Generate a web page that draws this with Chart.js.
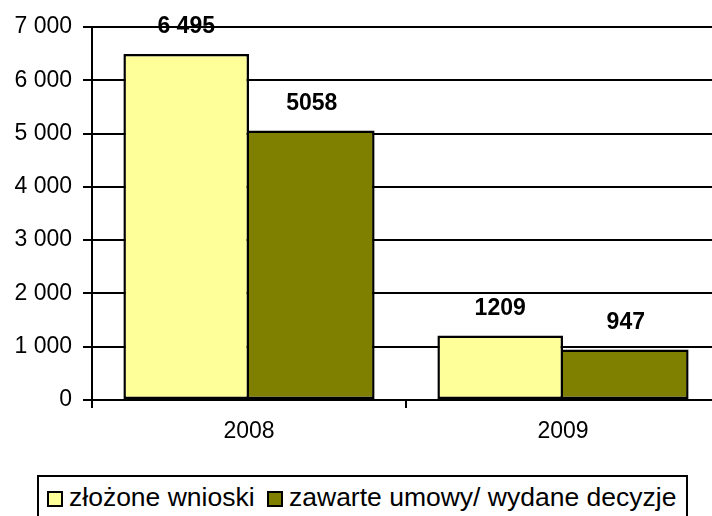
<!DOCTYPE html>
<html>
<head>
<meta charset="utf-8">
<script src="https://cdn.jsdelivr.net/npm/chart.js@4"></script>
<style>
  html, body { margin: 0; padding: 0; background: #fff; }
  #wrap { position: relative; width: 712px; height: 516px; overflow: hidden; }
  #chartBox { position: absolute; left: 0; top: 0; width: 724px; height: 470px; }
  .legend {
    position: absolute; left: 37px; top: 475px; width: 647px; height: 50px;
    border: 2px solid #000; font-family: "Liberation Sans", Arial, sans-serif;
    font-size: 26.5px; line-height: 30px; color: #000; white-space: nowrap;
  }
  .legend span.item { position: absolute; top: 5px; }
  .legend i {
    display: inline-block; width: 12px; height: 12px; border: 2px solid #000;
    vertical-align: -1px; margin-right: 6px;
  }
</style>
</head>
<body>
<div id="wrap">
  <div id="chartBox"><canvas id="myChart" width="724" height="470"></canvas></div>
  <div class="legend" id="legend"></div>
</div>
<script>
"use strict";

// data
const years = ["2008", "2009"];
const seriesNames = ["złożone wnioski", "zawarte umowy/ wydane decyzje"];
const wnioski = [6495, 1209];
const umowy = [5058, 947];
const wnioskiLabels = ["6 495", "1209"];
const umowyLabels = ["5058", "947"];
const yTickLabels = ["0", "1 000", "2 000", "3 000", "4 000", "5 000", "6 000", "7 000"];

const colors = ["#FFFF99", "#808000"];
const legendLeft = [8, 228];

//draws the value labels above each bar
const valueLabels = {
    id: "valueLabels",
    afterDatasetsDraw(chart) {
        const ctx = chart.ctx;
        ctx.save();
        ctx.font = "bold 23px 'Liberation Sans', Arial, sans-serif";
        ctx.fillStyle = "#000";
        ctx.textAlign = "center";
        ctx.textBaseline = "middle";
        chart.data.datasets.forEach((ds, i) => {
            chart.getDatasetMeta(i).data.forEach((bar, j) => {
                ctx.fillText(ds.valueText[j], bar.x, bar.y - 27);
            });
        });
        ctx.restore();
    }
};

const ctx = document.getElementById("myChart");
new Chart(ctx, {
    type: "bar",
    data: {
        labels: years,
        datasets: [{
            label: seriesNames[0],
            data: wnioski,
            valueText: wnioskiLabels,
            backgroundColor: colors[0],
            borderColor: "#000",
            borderWidth: 2.5,
            borderSkipped: false,
            inflateAmount: 0
        }, {
            label: seriesNames[1],
            data: umowy,
            valueText: umowyLabels,
            backgroundColor: colors[1],
            borderColor: "#000",
            borderWidth: { top: 2.5, left: 0, bottom: 2.5, right: 2.5 },
            borderSkipped: false,
            inflateAmount: 0
        }]
    },
    options: {
        responsive: false,
        animation: false,
        layout: { padding: { top: 27, right: 4, left: 0, bottom: 0 } },
        datasets: { bar: { categoryPercentage: 0.8, barPercentage: 1.0 } },
        plugins: {
            legend: { display: false },
            tooltip: { enabled: false }
        },
        scales: {
            x: {
                offset: true,
                grid: { offset: true, drawOnChartArea: false, color: "#000", lineWidth: 2, tickLength: 8 },
                border: { color: "#000", width: 2 },
                ticks: {
                    color: "#000", padding: 10,
                    font: { family: "'Liberation Sans', Arial, sans-serif", size: 23 }
                },
                afterFit: s => { s.height = 70; }
            },
            y: {
                min: 0,
                max: 7000,
                grid: { color: "#000", lineWidth: 2, tickLength: 9 },
                border: { color: "#000", width: 2 },
                ticks: {
                    stepSize: 1000,
                    color: "#000",
                    padding: 11,
                    font: { family: "'Liberation Sans', Arial, sans-serif", size: 23 },
                    callback: (v, i) => yTickLabels[i]
                },
                afterFit: s => { s.width = 92; }
            }
        }
    },
    plugins: [valueLabels]
});

//legend as html, built from the series arrays
const legendEl = document.getElementById("legend");
seriesNames.forEach((name, i) => {
    const item = document.createElement("span");
    item.className = "item";
    item.style.left = legendLeft[i] + "px";
    const sw = document.createElement("i");
    sw.style.background = colors[i];
    item.appendChild(sw);
    item.appendChild(document.createTextNode(name));
    legendEl.appendChild(item);
});
</script>
</body>
</html>
